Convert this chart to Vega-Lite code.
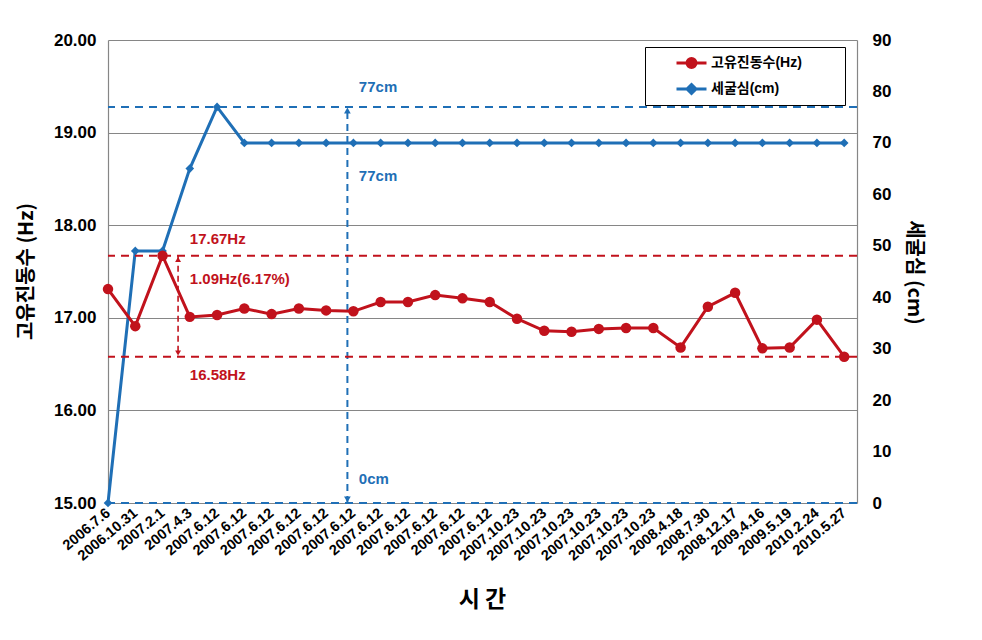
{
  "$schema": "https://vega.github.io/schema/vega-lite/v6.json",
  "width": 749,
  "height": 463,
  "autosize": {"type": "none"},
  "padding": {"left": 108, "top": 40, "right": 125, "bottom": 137},
  "background": "white",
  "config": {
    "view": {"stroke": null},
    "font": "Liberation Sans, Noto Sans CJK KR",
    "axisX": {
      "tickCount": 28,
      "labelExpr": "['2006.7.6','2006.10.31','2007.2.1','2007.4.3','2007.6.12','2007.6.12','2007.6.12','2007.6.12','2007.6.12','2007.6.12','2007.6.12','2007.6.12','2007.6.12','2007.6.12','2007.6.12','2007.10.23','2007.10.23','2007.10.23','2007.10.23','2007.10.23','2007.10.23','2008.4.18','2008.7.30','2008.12.17','2009.4.16','2009.5.19','2010.2.24','2010.5.27'][datum.value]",
      "labelAngle": -40, "labelAlign": "right", "labelBaseline": "middle",
      "labelFontSize": 14.5, "labelFontWeight": "bold", "labelColor": "black", "labelFont": "Liberation Sans",
      "labelPadding": 8, "labelOverlap": false, "labelFlush": false, "labelBound": false,
      "grid": false, "domain": false, "ticks": false,
      "titleX": 374, "titleY": 96, "titleBaseline": "middle",
      "titleFontSize": 23, "titleFontWeight": "bold", "titleColor": "black", "titleFont": "Noto Sans CJK KR"
    },
    "legend": {
      "orient": "none", "legendX": 537, "legendY": 7, "title": null,
      "fillColor": "white", "strokeColor": "black", "padding": 8,
      "symbolOffset": 22, "symbolSize": 900, "clipHeight": 16, "rowPadding": 10, "labelOffset": 3,
      "labelFontSize": 14, "labelFontWeight": "bold", "labelColor": "black",
      "labelFont": "Liberation Sans, Noto Sans CJK KR"
    }
  },
  "datasets": {
    "main": [
      {"i": 0, "hz": 17.31, "cm": 0},
      {"i": 1, "hz": 16.91, "cm": 49},
      {"i": 2, "hz": 17.67, "cm": 49},
      {"i": 3, "hz": 17.01, "cm": 65},
      {"i": 4, "hz": 17.03, "cm": 77},
      {"i": 5, "hz": 17.10, "cm": 70},
      {"i": 6, "hz": 17.04, "cm": 70},
      {"i": 7, "hz": 17.10, "cm": 70},
      {"i": 8, "hz": 17.08, "cm": 70},
      {"i": 9, "hz": 17.07, "cm": 70},
      {"i": 10, "hz": 17.17, "cm": 70},
      {"i": 11, "hz": 17.17, "cm": 70},
      {"i": 12, "hz": 17.245, "cm": 70},
      {"i": 13, "hz": 17.21, "cm": 70},
      {"i": 14, "hz": 17.17, "cm": 70},
      {"i": 15, "hz": 16.99, "cm": 70},
      {"i": 16, "hz": 16.86, "cm": 70},
      {"i": 17, "hz": 16.85, "cm": 70},
      {"i": 18, "hz": 16.88, "cm": 70},
      {"i": 19, "hz": 16.89, "cm": 70},
      {"i": 20, "hz": 16.89, "cm": 70},
      {"i": 21, "hz": 16.68, "cm": 70},
      {"i": 22, "hz": 17.12, "cm": 70},
      {"i": 23, "hz": 17.27, "cm": 70},
      {"i": 24, "hz": 16.67, "cm": 70},
      {"i": 25, "hz": 16.68, "cm": 70},
      {"i": 26, "hz": 16.98, "cm": 70},
      {"i": 27, "hz": 16.58, "cm": 70}
    ],
    "hzRef": [{"v": 17.67}, {"v": 16.58}],
    "cmRef": [{"v": 77}, {"v": 0}],
    "hzSpan": [{"i": 2.57, "a": 17.67, "b": 16.58}],
    "cmSpan": [{"i": 8.78, "a": 0, "b": 77}],
    "hzTips": [{"i": 2.57, "v": 17.63, "s": "up"}, {"i": 2.57, "v": 16.62, "s": "down"}],
    "cmTips": [{"i": 8.78, "v": 76.3, "s": "up"}, {"i": 8.78, "v": 0.7, "s": "down"}],
    "hzText": [
      {"i": 3.0, "v": 17.85, "t": "17.67Hz"},
      {"i": 3.0, "v": 17.42, "t": "1.09Hz(6.17%)"},
      {"i": 3.0, "v": 16.38, "t": "16.58Hz"}
    ],
    "cmText": [
      {"i": 9.2, "v": 80.8, "t": "77cm"},
      {"i": 9.2, "v": 63.6, "t": "77cm"},
      {"i": 9.2, "v": 4.7, "t": "0cm"}
    ]
  },
  "resolve": {"scale": {"y": "independent"}},
  "layer": [
    {
      "layer": [
        {
          "data": {"name": "cmRef"},
          "mark": {"type": "rule", "color": "#1F6FB6", "strokeWidth": 2, "strokeDash": [8, 6]},
          "encoding": {
            "y": {"field": "v", "type": "quantitative", "scale": {"domain": [0, 90], "nice": false, "zero": false},
              "axis": {
                "orient": "right", "values": [0, 10, 20, 30, 40, 50, 60, 70, 80, 90],
                "labelFontSize": 17, "labelFontWeight": "bold", "labelColor": "black", "labelPadding": 15,
                "ticks": false, "grid": false, "domainColor": "#868686", "domainWidth": 1.2,
                "title": "세굴심 (cm)", "titleAngle": 90, "titleX": 56, "titleY": 232, "titleBaseline": "middle",
                "titleFontSize": 20, "titleFontWeight": "bold", "titleColor": "black",
                "labelFont": "Liberation Sans", "titleFont": "Noto Sans CJK KR, Liberation Sans"
              }
            }
          }
        },
        {
          "data": {"name": "cmSpan"},
          "mark": {"type": "rule", "color": "#1F6FB6", "strokeWidth": 2, "strokeDash": [7, 5]},
          "encoding": {
            "x": {"field": "i", "type": "quantitative", "title": "시 간", "scale": {"domain": [0, 27.47], "nice": false, "zero": false}},
            "y": {"field": "a", "type": "quantitative"},
            "y2": {"field": "b"}
          }
        },
        {
          "data": {"name": "cmTips"},
          "mark": {"type": "point", "filled": true, "opacity": 1, "size": 45, "color": "#1F6FB6"},
          "encoding": {
            "x": {"field": "i", "type": "quantitative", "title": "시 간", "scale": {"domain": [0, 27.47], "nice": false, "zero": false}},
            "y": {"field": "v", "type": "quantitative"},
            "shape": {"field": "s", "type": "nominal", "scale": {"domain": ["up", "down"], "range": ["triangle-up", "triangle-down"]}, "legend": null}
          }
        },
        {
          "data": {"name": "main"},
          "mark": {"type": "line", "color": "#1F6FB6", "strokeWidth": 3},
          "encoding": {
            "x": {"field": "i", "type": "quantitative", "title": "시 간", "scale": {"domain": [0, 27.47], "nice": false, "zero": false}},
            "y": {"field": "cm", "type": "quantitative"}
          }
        },
        {
          "data": {"name": "main"},
          "mark": {"type": "point", "filled": true, "opacity": 1, "size": 75, "shape": "diamond"},
          "encoding": {
            "x": {"field": "i", "type": "quantitative", "title": "시 간", "scale": {"domain": [0, 27.47], "nice": false, "zero": false}},
            "y": {"field": "cm", "type": "quantitative"},
            "color": {
              "datum": "세굴심(cm)",
              "scale": {"domain": ["고유진동수(Hz)", "세굴심(cm)"], "range": ["#C1121C", "#1F6FB6"]},
              "legend": {
                "symbolType": {"expr": "datum.value === '고유진동수(Hz)' ? 'M-1,0L1,0M-0.3,0A0.3,0.3,0,1,1,0.3,0A0.3,0.3,0,1,1,-0.3,0Z' : 'M-1,0L1,0M0,-0.3L0.3,0L0,0.3L-0.3,0Z'"},
                "symbolStrokeColor": {"expr": "datum.value === '고유진동수(Hz)' ? '#C1121C' : '#1F6FB6'"},
                "symbolStrokeWidth": 3,
                "symbolOpacity": 1,
                "labelExpr": "datum.label + '\u00a0\u00a0\u00a0\u00a0\u00a0\u00a0\u00a0\u00a0\u00a0\u200b'"
              }
            }
          }
        },
        {
          "data": {"name": "cmText"},
          "mark": {"type": "text", "align": "left", "baseline": "middle", "color": "#1F6FB6", "fontSize": 15, "fontWeight": "bold", "font": "Liberation Sans"},
          "encoding": {
            "x": {"field": "i", "type": "quantitative", "title": "시 간", "scale": {"domain": [0, 27.47], "nice": false, "zero": false}},
            "y": {"field": "v", "type": "quantitative"},
            "text": {"field": "t"}
          }
        }
      ]
    },
    {
      "layer": [
        {
          "mark": {"type": "rule", "color": "black", "strokeWidth": 1.2},
          "encoding": {
            "y": {"datum": 20, "type": "quantitative", "scale": {"domain": [15, 20], "nice": false, "zero": false},
              "axis": {
                "orient": "left", "values": [15, 16, 17, 18, 19, 20], "format": ".2f",
                "labelFontSize": 17, "labelFontWeight": "bold", "labelColor": "black", "labelPadding": 12,
                "ticks": false, "grid": true, "gridColor": "#868686", "gridWidth": 1,
                "domainColor": "#868686", "domainWidth": 1.2,
                "title": "고유진동수 (Hz)", "titleX": -82, "titleY": 231, "titleBaseline": "middle",
                "titleFontSize": 20, "titleFontWeight": "bold", "titleColor": "black",
                "labelFont": "Liberation Sans", "titleFont": "Noto Sans CJK KR, Liberation Sans"
              }
            }
          }
        },
        {
          "data": {"name": "hzRef"},
          "mark": {"type": "rule", "color": "#C1121C", "strokeWidth": 2, "strokeDash": [8, 6]},
          "encoding": {
            "y": {"field": "v", "type": "quantitative"}
          }
        },
        {
          "data": {"name": "hzSpan"},
          "mark": {"type": "rule", "color": "#C1121C", "strokeWidth": 1.6, "strokeDash": [6, 4]},
          "encoding": {
            "x": {"field": "i", "type": "quantitative", "title": "시 간", "scale": {"domain": [0, 27.47], "nice": false, "zero": false}},
            "y": {"field": "a", "type": "quantitative"},
            "y2": {"field": "b"}
          }
        },
        {
          "data": {"name": "hzTips"},
          "mark": {"type": "point", "filled": true, "opacity": 1, "size": 35, "color": "#C1121C"},
          "encoding": {
            "x": {"field": "i", "type": "quantitative", "title": "시 간", "scale": {"domain": [0, 27.47], "nice": false, "zero": false}},
            "y": {"field": "v", "type": "quantitative"},
            "shape": {"field": "s", "type": "nominal", "legend": null}
          }
        },
        {
          "data": {"name": "main"},
          "mark": {"type": "line", "color": "#C1121C", "strokeWidth": 3},
          "encoding": {
            "x": {"field": "i", "type": "quantitative", "title": "시 간", "scale": {"domain": [0, 27.47], "nice": false, "zero": false}},
            "y": {"field": "hz", "type": "quantitative"}
          }
        },
        {
          "data": {"name": "main"},
          "mark": {"type": "point", "filled": true, "opacity": 1, "size": 110, "shape": "circle"},
          "encoding": {
            "x": {"field": "i", "type": "quantitative", "title": "시 간", "scale": {"domain": [0, 27.47], "nice": false, "zero": false}},
            "y": {"field": "hz", "type": "quantitative"},
            "color": {
              "datum": "고유진동수(Hz)",
              "scale": {"domain": ["고유진동수(Hz)", "세굴심(cm)"], "range": ["#C1121C", "#1F6FB6"]},
              "legend": {
                "symbolType": {"expr": "datum.value === '고유진동수(Hz)' ? 'M-1,0L1,0M-0.3,0A0.3,0.3,0,1,1,0.3,0A0.3,0.3,0,1,1,-0.3,0Z' : 'M-1,0L1,0M0,-0.3L0.3,0L0,0.3L-0.3,0Z'"},
                "symbolStrokeColor": {"expr": "datum.value === '고유진동수(Hz)' ? '#C1121C' : '#1F6FB6'"},
                "symbolStrokeWidth": 3,
                "symbolOpacity": 1,
                "labelExpr": "datum.label + '\u00a0\u00a0\u00a0\u00a0\u00a0\u00a0\u00a0\u00a0\u00a0\u200b'"
              }
            }
          }
        },
        {
          "data": {"name": "hzText"},
          "mark": {"type": "text", "align": "left", "baseline": "middle", "color": "#C1121C", "fontSize": 15, "fontWeight": "bold", "font": "Liberation Sans"},
          "encoding": {
            "x": {"field": "i", "type": "quantitative", "title": "시 간", "scale": {"domain": [0, 27.47], "nice": false, "zero": false}},
            "y": {"field": "v", "type": "quantitative"},
            "text": {"field": "t"}
          }
        }
      ]
    }
  ]
}
